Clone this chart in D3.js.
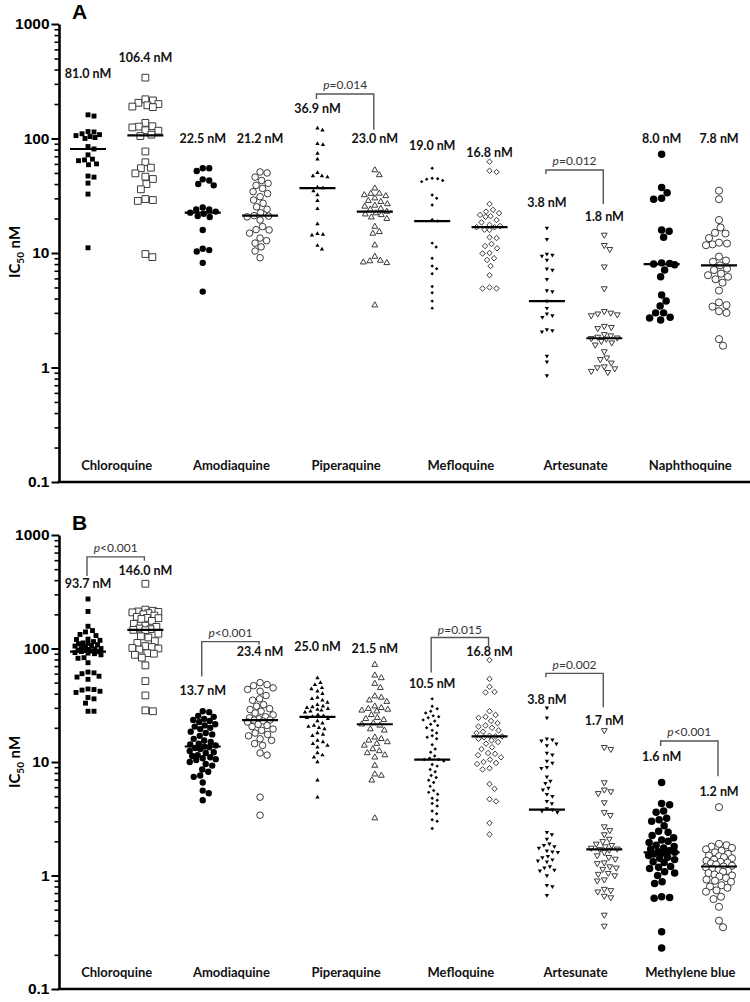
<!DOCTYPE html>
<html><head><meta charset="utf-8">
<script src="https://cdn.jsdelivr.net/npm/d3@7"></script>
<style>body{margin:0;background:#fff}</style>
</head><body>
<svg id="chart" width="750" height="1002"></svg>
<script>
// ---------------- DATA ----------------
const drugsA = ["Chloroquine","Amodiaquine","Piperaquine","Mefloquine","Artesunate","Naphthoquine"];
const drugsB = ["Chloroquine","Amodiaquine","Piperaquine","Mefloquine","Artesunate","Methylene blue"];
const yTicks = [0.1, 1, 10, 100, 1000];
const yTickLabels = ["0.1", "1", "10", "100", "1000"];

// Panel A (filled = first column of each pair, open = second)
const A_CQ_f = [161,157,115,114,110,108,106,104,102,100,85,81,72,66,65,64,60,59,47,46,40.8,32.7,11.1];
const A_CQ_o = [340,220,215,205,200,195,190,188,137,128,127,125,118,117,108,105,77,62,55.6,55,49.6,46.4,44.3,40,36,29.6,29,28.5,9.8,9.2];
const A_AQ_f = [55,55,52,44,43,40,39,25,24,24,23,22.5,22,21,20.6,15.9,10.9,10.6,10.3,8.2,4.6];
const A_AQ_o = [51,50,46,43,40.6,39,36.7,34.3,33,31,29,27.2,25.3,24.1,22.5,21.2,21,20.7,19.4,17,16,15.9,14.9,13.5,12.8,12.2,11.3,10.4,9.1];
const A_PPQ_f = [123,118,90,88,74,66,50.3,47.1,47,46,37.5,36.9,34.8,32.1,28.6,24.4,17.9,14.7,14.5,14.3,11.6,10.8];
const A_PPQ_o = [53,48,36.7,33.1,33,32.1,31.5,30.1,28.6,28,26.8,26,25.5,24.4,24,23,22.3,21.8,21.5,20.5,19.9,17,15.3,14.8,11.7,9.3,8.6,8.5,8.3,8.2,3.5];
const A_MQ_f = [55,45,44.5,44,43,42,32.1,30.1,26.2,19.5,19.0,12.2,11.3,9.0,7.7,7.3,6.6,5.1,4.5,3.8,3.3];
const A_MQ_o = [62.7,52.3,51,26.8,23.8,23,22.3,21.5,21,20.7,19.4,18.5,17.6,17.2,16.8,16.8,16,15.9,13.7,13.5,12.0,11.5,11,10,9.9,9.0,8.7,7.7,6.4,5.0,4.9,4.9];
const A_AS_f = [16.5,13.2,9.8,9.6,9.4,8.7,7.3,7.1,5.9,4.7,4.6,3.8,3.3,2.95,2.85,2.75,2.15,2.1,2.05,1.26,1.12,0.85];
const A_AS_o = [14.4,11.7,10.8,7.6,4.9,3.1,3.0,2.95,2.9,2.85,2.3,2.25,2.2,1.95,1.9,1.85,1.82,1.8,1.78,1.7,1.65,1.58,1.38,1.22,1.18,1.1,1.02,1.0,0.98,0.93,0.91];
const A_NQ_f = [73,37.4,33.6,30.1,29.5,15.9,15.5,13.7,8.2,8.1,8.0,7.9,7.1,6.2,4.3,3.8,3.45,3.0,3.0,2.75,2.7,2.6];
const A_NQ_o = [35,29.5,19.4,16.7,15,14.8,13.5,12.3,12.1,11.9,11.7,9.3,8.6,8.4,7.8,7.3,7.1,6.6,6.4,6.2,5.9,5.5,4.7,3.7,3.5,3.4,3.1,3.0,1.77,1.55];
const mediansA = [81.0,106.4,22.5,21.2,36.9,23.0,19.0,16.8,3.8,1.8,8.0,7.8];

// Panel B
const B_CQ_f = [273,212,157,144,140,133,130,121,120,118,115,112,111,110,108,106,105,104,103,100,99,98,97,96,95,94,93.7,92,91,90,88,83,82,75,62,61,60,57,56,53.5,44,43.5,43,42,41,37,36,33,28,28];
const B_CQ_o = [372,220,215,212,210,208,205,200,195,190,186,185,182,175,165,159,155,150,148,146,145,135,128,125,116,112,105,103,101,100,98,91,90,88,83,71,51.6,38.6,28.5,28];
const B_AQ_f = [28,27.5,25.5,25,24,23.5,23,22.5,21.5,21,20.5,20,19.5,18.5,18,17.5,17,16,15.5,15,14.5,14.3,14,13.7,13.5,13.3,13,12.5,12.2,12,11.5,11.3,11,10.8,10.6,10.4,10,9.6,9.3,8.6,8.2,7.6,7.4,6.6,5.6,5.3,4.6];
const B_AQ_o = [50,48,47,45,43.6,42,38.5,36,35,32,31,29.5,29,28,27,26,25,24.5,24,23.5,23.4,23,22.5,21.5,21,20.5,19.5,19,18,17.5,17,16,15.5,14.5,14,12,11.5,4.9,3.4];
const B_PPQ_f = [55,50,48,45,44,42,40,37,36,35,33.5,32,31,30.5,30,29.5,29,28.5,28,27.5,26,25.5,25,24.5,24,23,22,21,20.5,20,19.5,18,17.5,17,15.5,15,14.5,14,13.5,12,11.5,11,10,6.9,4.9];
const B_PPQ_o = [72,58,55,49,45,38,37,35,34,31,30,29.5,29,28.5,28,26,24.5,24,23.5,22,21.5,21,19.5,19,16.5,16,15.5,15,14.5,14,13,12.5,12,11.5,11,9.3,7.8,7.6,6.9,3.2];
const B_MQ_f = [36,31,29.5,28,27,25.5,25,24.5,23.5,23,21.5,21,20,19,18,17,16.5,16,14.2,13,12.2,11.3,10.8,10.5,10.5,10.2,9.5,9.2,8.6,8.2,7.6,7.3,6.9,6.6,6.1,5.6,5.4,5.2,4.8,4.6,4.3,4.1,3.7,3.5,3.1,3.0,2.6];
const B_MQ_o = [79,54,46,41.5,41,28,26,25,24.5,23,22,21,20.5,20,19,18.5,18,17,16.8,16.8,16.5,16,15.5,15,14.5,13.5,13,12,11.8,11.5,11,10.5,10,9.8,9.6,8.8,8.6,6.4,5.8,4.7,4.5,2.9,2.3];
const B_AS_f = [30,24.5,16,15.7,15.4,14.5,14,12,11.6,10.2,9.8,9,8.8,7.4,6.8,6.5,5.9,5.7,5.2,5.0,4.5,4.3,3.9,3.8,3.7,3.6,2.4,2.3,2.1,1.9,1.85,1.8,1.75,1.65,1.62,1.6,1.48,1.44,1.38,1.35,1.32,1.2,1.17,1.12,1.1,1.0,0.82,0.8,0.67];
const B_AS_o = [19,13.5,13,6.6,5.7,5.5,5.3,4.4,3.6,3.4,2.7,2.5,2.3,2.1,2.0,1.9,1.85,1.8,1.75,1.72,1.7,1.68,1.6,1.5,1.45,1.4,1.3,1.28,1.2,1.17,1.14,1.05,1.03,1.0,0.92,0.9,0.76,0.74,0.72,0.66,0.64,0.45,0.36];
const B_MB_f = [6.6,4.3,4.2,3.7,3.6,3.2,3.1,3.0,2.75,2.45,2.4,2.25,2.15,2.05,2.0,1.95,1.85,1.8,1.75,1.7,1.65,1.62,1.6,1.58,1.55,1.5,1.45,1.42,1.38,1.32,1.3,1.2,1.18,1.15,1.08,1.05,1.0,0.88,0.85,0.65,0.64,0.63,0.32,0.23];
const B_MB_o = [4.0,1.9,1.85,1.8,1.75,1.7,1.65,1.6,1.55,1.5,1.48,1.45,1.42,1.38,1.35,1.32,1.3,1.28,1.25,1.22,1.2,1.18,1.15,1.12,1.1,1.08,1.05,1.02,1.0,0.98,0.95,0.92,0.9,0.88,0.82,0.8,0.78,0.74,0.72,0.65,0.62,0.53,0.4,0.35];
const mediansB = [93.7,146.0,13.7,23.4,25.0,21.5,10.5,16.8,3.8,1.7,1.6,1.2];

// p-values: pair index, comparison text
const pValuesA = [{pair:2, text:"=0.014"}, {pair:4, text:"=0.012"}];
const pValuesB = [{pair:0, text:"<0.001"}, {pair:1, text:"<0.001"}, {pair:3, text:"=0.015"}, {pair:4, text:"=0.002"}, {pair:5, text:"<0.001"}];

// ---------------- LAYOUT (annotation placement, in nM units) ----------------
const labelAtA = [373,505,101,99,181,99,87.7,76.2,27.4,21,101,101];
const labelAtB = [372,483,42.8,94.2,104,100,49.3,94.2,35.7,23.3,11.1,5.46];
const bracketAtA = [
  {text:293, bar:245, left:221, right:119},
  {text:63.5, bar:53, left:49, right:26.8}];
const bracketAtB = [
  {text:769, bar:641, left:436, right:592},
  {text:138, bar:115, left:56.8, right:108},
  {text:147, bar:125, left:61.5, right:104},
  {text:71, bar:60.4, left:55.7, right:30.3},
  {text:18.3, bar:15.3, left:13.8, right:7.5}];

// ---------------- DRAW ----------------
const svg = d3.select("#chart");
const colX = d3.scaleLinear().domain([0, 11]).range([88, 719]);
const AXIS_X = 59;

const diamond = {draw(ctx, size){ const r = Math.sqrt(size/2); ctx.moveTo(0,-r); ctx.lineTo(r,0); ctx.lineTo(0,r); ctx.lineTo(-r,0); ctx.closePath(); }};
const triDown = {draw(ctx, size){ const s = Math.sqrt(size*4/Math.sqrt(3)); const h = s*Math.sqrt(3)/2; ctx.moveTo(-s/2,-h/3); ctx.lineTo(s/2,-h/3); ctx.lineTo(0,2*h/3); ctx.closePath(); }};
const triUp = {draw(ctx, size){ const s = Math.sqrt(size*4/Math.sqrt(3)); const h = s*Math.sqrt(3)/2; ctx.moveTo(-s/2,h/3); ctx.lineTo(s/2,h/3); ctx.lineTo(0,-2*h/3); ctx.closePath(); }};

// per drug pair: [filled, open] symbol type, size(area), swarm spacing
const markerStyle = [
  [{t:d3.symbolSquare, s:24, d:6.0}, {t:d3.symbolSquare, s:46, d:7.4}],
  [{t:d3.symbolCircle, s:32, d:6.4}, {t:d3.symbolCircle, s:34, d:7.0}],
  [{t:triUp, s:8, d:5.4}, {t:triUp, s:15, d:6.6}],
  [{t:diamond, s:6, d:5.2}, {t:diamond, s:15, d:6.8}],
  [{t:triDown, s:8, d:5.4}, {t:triDown, s:15, d:6.6}],
  [{t:d3.symbolCircle, s:44, d:7.6}, {t:d3.symbolCircle, s:40, d:7.6}]
];
const MAX_HALF = 13;

function swarm(values, y, cx, d){
  const pts = values.map(v => ({v, y:y(v)})).sort((a,b)=>a.y-b.y);
  const placed = [];
  const offs = [0];
  for (let k=0.5;k<=MAX_HALF;k+=0.5){ offs.push(k, -k); }
  for (const p of pts){
    let bestX = cx, bestScore = -Infinity, found = false;
    for (const off of offs){
      const cand = cx + off;
      let minD = Infinity;
      for (const q of placed){ const dd = Math.hypot(q.x-cand, q.y-p.y); if (dd<minD) minD = dd; }
      if (minD >= d){ bestX = cand; found = true; break; }
      if (minD > bestScore + 0.3){ bestScore = minD; bestX = cand; }
    }
    p.x = bestX; placed.push(p);
  }
  return pts;
}

function drawPanel(cfg){
  const y = d3.scaleLog().domain([0.1, 1000]).range([cfg.bottom, cfg.top]);
  const g = svg.append("g");

  const minor = [];
  for (let e=-1;e<3;e++) for (let m=2;m<=9;m++) minor.push(m*Math.pow(10,e));
  g.append("g").attr("transform",`translate(${AXIS_X},0)`)
    .call(d3.axisLeft(y).tickValues(minor).tickSize(4.5).tickSizeOuter(0).tickFormat(""))
    .call(s=>s.select(".domain").remove())
    .call(s=>s.selectAll("line").attr("stroke","#000").attr("stroke-width",1.6));
  g.append("g").attr("transform",`translate(${AXIS_X},0)`)
    .call(d3.axisLeft(y).tickValues(yTicks).tickSize(7.5).tickSizeOuter(0).tickPadding(2)
      .tickFormat((d,i)=>yTickLabels[i]))
    .call(s=>s.select(".domain").attr("stroke","#000").attr("stroke-width",2.6))
    .call(s=>s.selectAll("line").attr("stroke","#000").attr("stroke-width",2))
    .call(s=>s.selectAll("text").attr("font-family","Liberation Sans, Arial, sans-serif")
      .attr("font-weight","bold").attr("font-size",15.5).attr("fill","#000"));
  g.append("line").attr("x1",AXIS_X-1.3).attr("x2",750).attr("y1",y(0.1)).attr("y2",y(0.1))
    .attr("stroke","#000").attr("stroke-width",2.6);

  const yt = g.append("text").attr("transform",`translate(20,${cfg.titleY}) rotate(-90)`)
    .attr("text-anchor","middle").attr("font-family","Lato, sans-serif").attr("font-weight","bold")
    .attr("font-size",15).attr("fill","#000");
  yt.append("tspan").text("IC");
  yt.append("tspan").text("50").attr("font-size",10).attr("dy",4);
  yt.append("tspan").text(" nM").attr("dy",-4);

  g.append("text").attr("x",cfg.letterX).attr("y",cfg.letterY).text(cfg.letter)
    .attr("font-family","Liberation Sans, Arial, sans-serif").attr("font-weight","bold").attr("font-size",21);

  cfg.drugs.forEach((name,i)=>{
    g.append("text").attr("x",(colX(2*i)+colX(2*i+1))/2).attr("y",y(0.1)-12)
      .attr("text-anchor","middle").attr("font-family","Lato, sans-serif").attr("font-weight","bold")
      .attr("font-size",13).attr("fill","#111").text(name);
  });

  cfg.series.forEach((vals, c)=>{
    const pair = Math.floor(c/2), open = c%2===1;
    const st = markerStyle[pair][open?1:0];
    const pts = swarm(vals, y, colX(c), st.d);
    const sym = d3.symbol().type(st.t).size(st.s);
    g.append("g").selectAll("path").data(pts).join("path")
      .attr("transform",p=>`translate(${p.x},${p.y})`)
      .attr("d", sym())
      .attr("fill", open ? "#fff" : "#000")
      .attr("stroke", open ? "#3a3a3a" : "none")
      .attr("stroke-width", 1);
    g.append("line").attr("x1",colX(c)-18).attr("x2",colX(c)+18)
      .attr("y1",y(cfg.medians[c])).attr("y2",y(cfg.medians[c]))
      .attr("stroke","#000").attr("stroke-width",2.2);
    g.append("text").attr("x",colX(c)).attr("y",y(cfg.labelAt[c])+4.5)
      .attr("text-anchor","middle").attr("font-family","Lato, sans-serif").attr("font-weight","bold")
      .attr("font-size",12.5).attr("fill","#111").text(cfg.medians[c].toFixed(1)+" nM");
  });

  cfg.pvals.forEach((p,k)=>{
    const b = cfg.brackets[k];
    const xl = colX(2*p.pair)-1, xr = colX(2*p.pair+1)-1;
    g.append("path").attr("d",`M${xl},${y(b.left)}V${y(b.bar)}H${xr}V${y(b.right)}`)
      .attr("fill","none").attr("stroke","#555").attr("stroke-width",1.4);
    const t = g.append("text").attr("x",(xl+xr)/2).attr("y",y(b.text)+4)
      .attr("text-anchor","middle").attr("font-family","Lato, sans-serif").attr("font-size",12).attr("fill","#333");
    t.append("tspan").attr("font-style","italic").text("p");
    t.append("tspan").text(p.text);
  });
}

drawPanel({top:24, bottom:482, drugs:drugsA,
  series:[A_CQ_f,A_CQ_o,A_AQ_f,A_AQ_o,A_PPQ_f,A_PPQ_o,A_MQ_f,A_MQ_o,A_AS_f,A_AS_o,A_NQ_f,A_NQ_o],
  medians:mediansA, labelAt:labelAtA, pvals:pValuesA, brackets:bracketAtA,
  letter:"A", letterX:72, letterY:19, titleY:252});
drawPanel({top:535, bottom:989, drugs:drugsB,
  series:[B_CQ_f,B_CQ_o,B_AQ_f,B_AQ_o,B_PPQ_f,B_PPQ_o,B_MQ_f,B_MQ_o,B_AS_f,B_AS_o,B_MB_f,B_MB_o],
  medians:mediansB, labelAt:labelAtB, pvals:pValuesB, brackets:bracketAtB,
  letter:"B", letterX:72, letterY:530, titleY:762});
</script>
</body></html>
